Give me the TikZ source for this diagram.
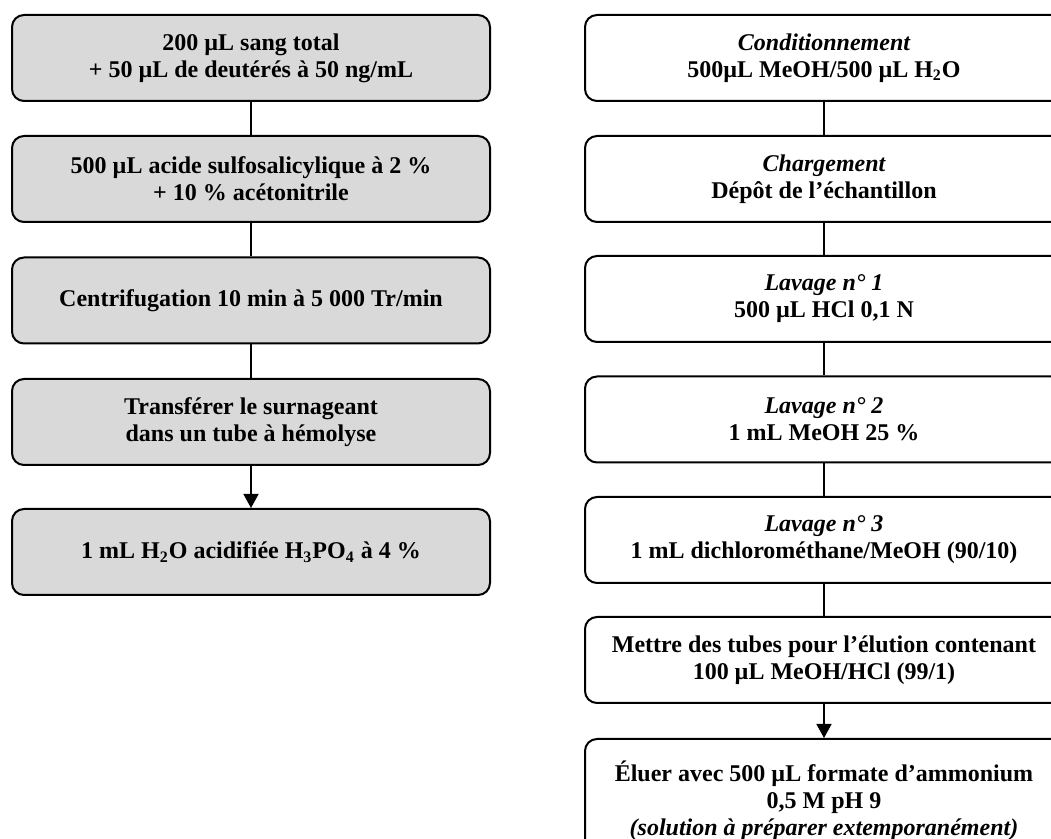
\documentclass[tikz,border=0pt]{standalone}
\usepackage{fontspec}
\setmainfont{Liberation Serif}
\usepackage{xcolor}
\usetikzlibrary{arrows.meta}
\definecolor{boxgray}{RGB}{217,217,217}

\tikzset{
  stepbox/.style={draw, line width=1pt, rounded corners=6pt, minimum width=239pt,
    minimum height=43pt, align=center, inner sep=2pt,
    font=\fontsize{12pt}{13.5pt}\selectfont\bfseries},
  graybox/.style={stepbox, fill=boxgray},
  link/.style={line width=0.75pt},
  arrowlink/.style={link, -{Triangle[length=7pt,width=7.5pt]}}
}

\begin{document}
\begin{tikzpicture}[x=0.5pt,y=-0.5pt]
\useasboundingbox (0,0) rectangle (1051,839);

% left column: sample preparation
\node[graybox] (prep1) at (251,58) {200 µL sang total\\+ 50 µL de deutérés à 50 ng/mL};
\node[graybox] (prep2) at (251,179) {500 µL acide sulfosalicylique à 2 \%\\+ 10 \% acétonitrile};
\node[graybox] (prep3) at (251,300.5) {Centrifugation 10 min à 5 000 Tr/min};
\node[graybox] (prep4) at (251,422) {Transférer le surnageant\\dans un tube à hémolyse};
\node[graybox] (prep5) at (251,552) {1 mL H\textsubscript{2}O acidifiée H\textsubscript{3}PO\textsubscript{4} à 4 \%};

\draw[link] (prep1) -- (prep2);
\draw[link] (prep2) -- (prep3);
\draw[link] (prep3) -- (prep4);
\draw[arrowlink] (prep4) -- (prep5);

% right column: extraction
\node[stepbox] (spe1) at (824,58) {{\itshape Conditionnement}\\500µL MeOH/500 µL H\textsubscript{2}O};
\node[stepbox] (spe2) at (824,179) {{\itshape Chargement}\\Dépôt de l’échantillon};
\node[stepbox] (spe3) at (824,299) {{\itshape Lavage n° 1}\\500 µL HCl 0,1 N};
\node[stepbox] (spe4) at (824,419.5) {{\itshape Lavage n° 2}\\1 mL MeOH 25 \%};
\node[stepbox] (spe5) at (824,540) {{\itshape Lavage n° 3}\\1 mL dichlorométhane/MeOH (90/10)};
\node[stepbox] (spe6) at (824,660) {Mettre des tubes pour l’élution contenant\\100 µL MeOH/HCl (99/1)};
\node[stepbox, anchor=north, minimum height=62pt] (spe7) at (824,738) {Éluer avec 500 µL formate d’ammonium\\0,5 M pH 9\\{\itshape (solution à préparer extemporanément)}};

\draw[link] (spe1) -- (spe2);
\draw[link] (spe2) -- (spe3);
\draw[link] (spe3) -- (spe4);
\draw[link] (spe4) -- (spe5);
\draw[link] (spe5) -- (spe6);
\draw[arrowlink] (spe6) -- (spe7);
\end{tikzpicture}
\end{document}
